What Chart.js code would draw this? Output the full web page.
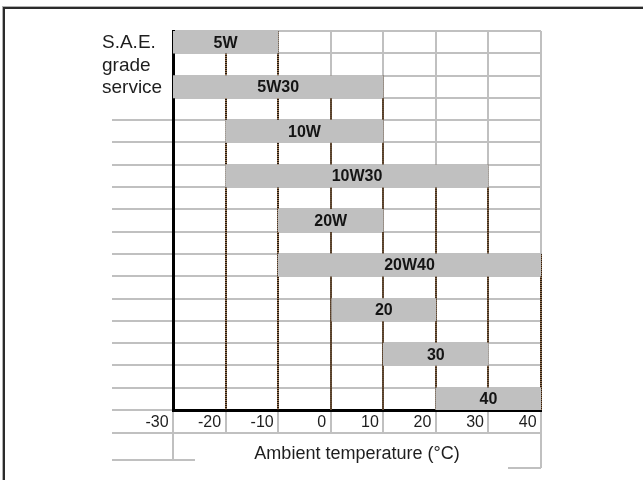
<!DOCTYPE html>
<html>
<head>
<meta charset="utf-8">
<script src="https://cdn.jsdelivr.net/npm/chart.js@4"></script>
<style>
  html, body { margin: 0; padding: 0; background: #fff; overflow: hidden; }
  #wrap { position: relative; width: 643px; height: 480px; }
  #frame { position: absolute; left: 3px; top: 7px; width: 700px; height: 600px;
           border: 2px solid #2b2b2b; box-shadow: -1px -1px 0 0 #b0b0b0; pointer-events: none; }
  canvas { position: absolute; left: 0; top: 0; }
</style>
</head>
<body>
<div id="wrap">
  <canvas id="c" width="643" height="480"></canvas>
  <div id="frame"></div>
</div>
<script>
// ---- data ----
const grades   = ['5W', '5W30', '10W', '10W30', '20W', '20W40', '20', '30', '40'];
const minTemps = [-30, -30, -20, -20, -10, -10, 0, 10, 20];
const maxTemps = [-10, 10, 10, 30, 10, 40, 20, 30, 40];
const xTicks   = [-30, -20, -10, 0, 10, 20, 30, 40];
const yTitleLines = ['S.A.E.', 'grade', 'service'];
const xTitle = 'Ambient temperature (°C)';

// rows: each grade followed by an empty spacer row
const rowLabels = [];
const rowData = [];
grades.forEach((g, i) => {
  rowLabels.push(g);
  rowData.push([minTemps[i], maxTemps[i]]);
  if (i < grades.length - 1) { rowLabels.push(' '.repeat(i + 1)); rowData.push(null); }
});

const GRID = '#c0c0c0';
const FONT = "'Liberation Sans', Arial, sans-serif";

const dottedPlugin = {
  id: 'dotted',
  beforeDatasetsDraw(chart) {
    const ctx = chart.ctx, xs = chart.scales.x, area = chart.chartArea;
    const meta = chart.getDatasetMeta(0);
    xTicks.forEach(v => {
      if (v === xTicks[0]) return;
      const i = grades.findIndex((g, k) => minTemps[k] < v && v <= maxTemps[k]);
      if (i < 0) return;
      const bar = meta.data[2 * i];
      const top = bar.y - bar.height / 2;
      const x = Math.round(xs.getPixelForValue(v));
      ctx.save();
      ctx.lineWidth = 2;
      ctx.strokeStyle = '#9a7654';
      ctx.beginPath(); ctx.moveTo(x, top); ctx.lineTo(x, area.bottom); ctx.stroke();
      ctx.strokeStyle = '#24190f';
      ctx.setLineDash([1, 1]);
      ctx.beginPath(); ctx.moveTo(x, top); ctx.lineTo(x, area.bottom); ctx.stroke();
      ctx.restore();
    });
  }
};

const labelPlugin = {
  id: 'barLabels',
  afterDatasetsDraw(chart) {
    const ctx = chart.ctx;
    const meta = chart.getDatasetMeta(0);
    ctx.save();
    ctx.font = "bold 16px " + FONT;
    ctx.fillStyle = '#141414';
    ctx.textAlign = 'center';
    ctx.textBaseline = 'middle';
    grades.forEach((g, i) => {
      const bar = meta.data[2 * i];
      ctx.fillText(g, (bar.x + bar.base) / 2, bar.y + 1);
    });
    ctx.restore();
  }
};

const decoPlugin = {
  id: 'deco',
  afterDraw(chart) {
    const ctx = chart.ctx, area = chart.chartArea, ys = chart.scales.y;
    const left = ys.left;
    // y title lines
    ctx.save();
    ctx.font = "19px " + FONT;
    ctx.fillStyle = '#1e1e1e';
    ctx.textAlign = 'left';
    ctx.textBaseline = 'middle';
    yTitleLines.forEach((t, k) => {
      ctx.fillText(t, left - 10, ys.getPixelForValue(k) + 1);
    });
    // table lines below the axis
    const rowY = area.bottom + 23;
    ctx.strokeStyle = GRID;
    ctx.lineWidth = 2;
    ctx.beginPath();
    ctx.moveTo(left, rowY); ctx.lineTo(area.right, rowY);
    ctx.moveTo(area.left, rowY); ctx.lineTo(area.left, rowY + 27);
    ctx.moveTo(left, rowY + 27); ctx.lineTo(area.left + 22, rowY + 27);
    ctx.moveTo(area.right, rowY); ctx.lineTo(area.right, rowY + 35);
    ctx.moveTo(area.right - 33, rowY + 35); ctx.lineTo(area.right, rowY + 35);
    ctx.stroke();
    ctx.restore();
  }
};

new Chart(document.getElementById('c'), {
  type: 'bar',
  data: {
    labels: rowLabels,
    datasets: [{
      data: rowData,
      backgroundColor: '#c0c0c0',
      borderWidth: 0,
      barPercentage: 1,
      categoryPercentage: 1
    }]
  },
  options: {
    indexAxis: 'y',
    responsive: false,
    animation: false,
    events: [],
    layout: { padding: { left: 112, top: 31, right: 102, bottom: 15 } },
    plugins: { legend: { display: false }, tooltip: { enabled: false }, title: { display: false } },
    scales: {
      x: {
        type: 'linear',
        position: 'bottom',
        min: xTicks[0],
        max: xTicks[xTicks.length - 1],
        afterBuildTicks: s => { s.ticks = xTicks.map(v => ({ value: v })); },
        afterFit: s => { s.height = 55; },
        grid: {
          color: GRID, lineWidth: 2,
          drawTicks: true, tickLength: 23, tickColor: GRID, tickWidth: 2
        },
        border: { display: true, color: '#000', width: 3 },
        ticks: {
          align: 'end',
          padding: -20,
          color: '#1e1e1e',
          font: { family: FONT, size: 16 },
          maxRotation: 0,
          autoSkip: false,
          callback: v => v + ' '
        },
        title: {
          display: true, text: xTitle, color: '#1e1e1e',
          font: { family: FONT, size: 18 }, padding: { top: 0, bottom: 0 }
        }
      },
      y: {
        position: 'left',
        afterFit: s => { s.width = 61; },
        grid: {
          offset: true,
          color: GRID, lineWidth: 2,
          drawTicks: true, tickLength: 61, tickWidth: 2,
          tickColor: c => (c.index < 4 ? 'rgba(0,0,0,0)' : GRID)
        },
        border: { display: true, color: '#000', width: 3 },
        ticks: { display: false }
      }
    }
  },
  plugins: [dottedPlugin, labelPlugin, decoPlugin]
});
</script>
</body>
</html>
